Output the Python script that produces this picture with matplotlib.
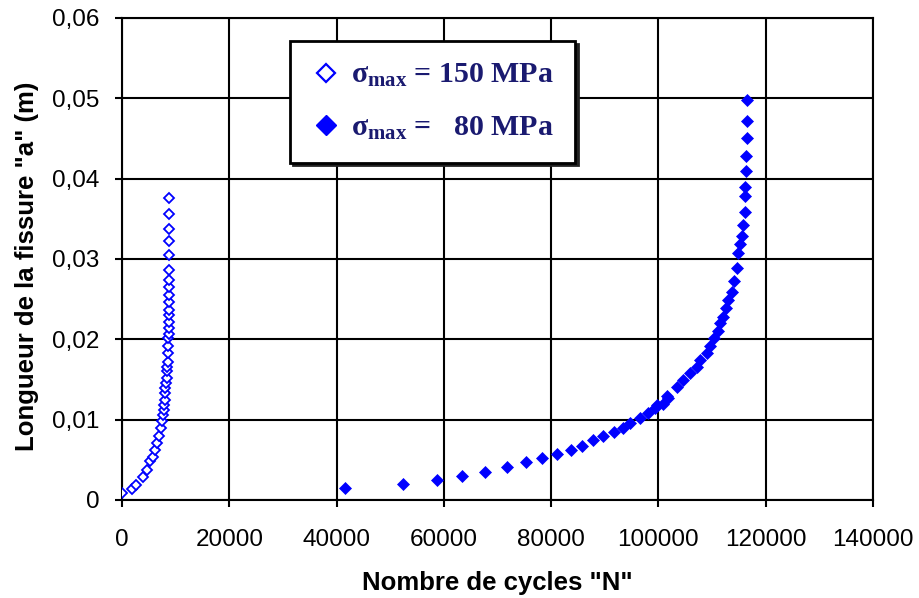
import matplotlib
matplotlib.use('Agg')
import matplotlib.pyplot as plt
from matplotlib.lines import Line2D

# fonts
plt.rcParams['font.family'] = ['Liberation Sans', 'DejaVu Sans']
plt.rcParams['mathtext.fontset'] = 'stix'

# sigma_max = 150 MPa (open diamonds)
n_150 = [0, 1800, 2700, 3850, 4600, 5200, 5850, 6150, 6600, 6850, 7200, 7450,
         7700, 7850, 7900, 7950, 8000, 8100, 8200, 8300, 8400, 8450, 8500, 8550,
         8600, 8650, 8700, 8700, 8700, 8700, 8700, 8700, 8700, 8700, 8700,
         8700, 8700, 8700, 8700, 8700, 8700]
a_150 = [0.0009, 0.0014, 0.0019, 0.0029, 0.0037, 0.0048, 0.0054, 0.0062, 0.0071,
         0.0079, 0.0089, 0.0098, 0.0106, 0.0112, 0.0118, 0.0125, 0.0133, 0.0139,
         0.0145, 0.0152, 0.0160, 0.0166, 0.0172, 0.0183, 0.0192, 0.0201, 0.0207,
         0.0214, 0.0222, 0.0230, 0.0237, 0.0246, 0.0255, 0.0265, 0.0274, 0.0286,
         0.0305, 0.0322, 0.0337, 0.0356, 0.0376]

# sigma_max = 80 MPa (filled diamonds)
n_80 = [41570, 52430, 58650, 63310, 67660, 71820, 75250, 78230, 81150, 83630,
        85680, 87850, 89710, 91710, 93440, 94690, 96550, 98100, 99350, 99660,
        100900, 101520, 101830, 103380, 104620, 105870, 107120, 107730, 108970,
        109590, 110340, 111140, 111460, 112080, 112570, 113000, 113630, 114120,
        114570, 114870, 115180, 115500, 115800, 116110, 116170, 116170, 116420,
        116420, 116540, 116540, 116540]
a_80 = [0.00146, 0.0020, 0.0025, 0.0030, 0.0035, 0.0041, 0.0047, 0.0052, 0.0057,
        0.0062, 0.0067, 0.0075, 0.0080, 0.0085, 0.0090, 0.0096, 0.0102, 0.0108,
        0.0114, 0.0118, 0.0120, 0.0129, 0.0127, 0.0141, 0.0149, 0.0158, 0.0166,
        0.0174, 0.0183, 0.0191, 0.0201, 0.0210, 0.0220, 0.0228, 0.0239, 0.0249,
        0.0259, 0.0272, 0.0289, 0.0307, 0.0318, 0.0328, 0.0342, 0.0358, 0.0378,
        0.0389, 0.0409, 0.0428, 0.0450, 0.0472, 0.0498]

x_ticks = [0, 20000, 40000, 60000, 80000, 100000, 120000, 140000]
x_tick_labels = ['0', '20000', '40000', '60000', '80000', '100000', '120000', '140000']
y_ticks = [0, 0.01, 0.02, 0.03, 0.04, 0.05, 0.06]
y_tick_labels = ['0', '0,01', '0,02', '0,03', '0,04', '0,05', '0,06']

label_150 = r'$\mathregular{σ_{max}}$ = 150 MPa'
label_80 = r'$\mathregular{σ_{max}}$ =   80 MPa'

blue = '#0000ff'

fig = plt.figure(figsize=(9.2, 5.98), dpi=100)
ax = fig.add_axes([0.1326, 0.164, 0.8163, 0.806])

ax.plot(n_150, a_150, linestyle='none', marker='D', markersize=5.4,
        markerfacecolor='white', markeredgecolor=blue, markeredgewidth=1.3,
        zorder=3)
ax.plot(n_80, a_80, linestyle='none', marker='D', markersize=6.2,
        markerfacecolor=blue, markeredgecolor=blue, markeredgewidth=0.5,
        zorder=3)

ax.set_xlim(0, 140000)
ax.set_ylim(0, 0.06)
ax.set_xticks(x_ticks)
ax.set_xticklabels(x_tick_labels)
ax.set_yticks(y_ticks)
ax.set_yticklabels(y_tick_labels)
ax.tick_params(direction='out', length=5, width=1.5, labelsize=17.5,
               colors='black')
ax.tick_params(axis='x', pad=16)
ax.tick_params(axis='y', pad=11)
ax.grid(True, color='black', linewidth=1.5)
ax.set_axisbelow(True)
for s in ax.spines.values():
    s.set_linewidth(1.5)
    s.set_color('black')

ax.set_xlabel('Nombre de cycles "N"', fontsize=18.5, fontweight='bold', labelpad=14)
ax.set_ylabel('Longueur de la fissure "a" (m)', fontsize=18.5, fontweight='bold', labelpad=10)
ax.yaxis.label.set_y(0.485)

# legend
handles = [
    Line2D([], [], linestyle='none', marker='D', markersize=9,
           markerfacecolor='white', markeredgecolor=blue, markeredgewidth=1.6),
    Line2D([], [], linestyle='none', marker='D', markersize=10,
           markerfacecolor=blue, markeredgecolor=blue),
]
leg = ax.legend(handles, [label_150, label_80], loc='upper left',
                bbox_to_anchor=(0.224, 0.952), frameon=True, fancybox=False,
                shadow={'color': '#222222', 'alpha': 1},
                prop={'family': 'Liberation Serif', 'size': 21.5, 'weight': 'bold'},
                labelspacing=0.85, handletextpad=0.35, handlelength=1.0,
                borderpad=0.7, borderaxespad=0)
leg.get_frame().set_edgecolor('black')
leg.get_frame().set_linewidth(2)
leg.get_frame().set_facecolor('white')
for t in leg.get_texts():
    t.set_color('#1a1a70')

fig.savefig('out.png', dpi=100)
